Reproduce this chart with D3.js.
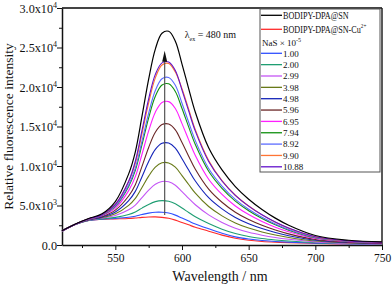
<!DOCTYPE html>
<html lang="en">
  <head>
    <meta charset="UTF-8" />
    <title>Fluorescence spectra</title>
    <script src="https://d3js.org/d3.v7.min.js"></script>
    <style>
      * { margin: 0; padding: 0; }
      body { background: #fff; font-family: "Liberation Serif", "Times New Roman", serif; }
      .axis text { font-size: 11.5px; fill: #111; font-family: "Liberation Serif", serif; }
      .y-axis text { font-size: 12.2px; }
      .axis path, .axis line { stroke: #111; }
      .axis-label { font-size: 13.5px; fill: #111; }
      .legend text { font-size: 9px; fill: #111; }
    </style>
  </head>
  <body>
    <div id="chart"></div>
    <script>
      // wavelength grid (nm)
      const wavelengths = [510, 520, 530, 540, 550, 560, 565, 570, 575, 580, 585, 590, 595,
        600, 605, 610, 620, 630, 640, 650, 660, 670, 680, 700, 725, 750];

      const bodipy = [1800, 2650, 3350, 3950, 5500, 9000, 11800, 16300, 21000, 24800, 26800, 27050, 25800,
        22900, 19800, 16800, 12300, 9500, 7400, 5800, 4500, 3400, 2500, 1200, 600, 400];
      const bodipyCu = [1750, 2600, 3100, 3250, 3300, 3350, 3420, 3500, 3550, 3560, 3500, 3380, 3150,
        2850, 2550, 2250, 1750, 1250, 850, 600, 450, 360, 300, 200, 120, 80];
      const nas100 = [1750, 2600, 3110, 3270, 3360, 3510, 3650, 3860, 4040, 4150, 4150, 4040, 3780,
        3410, 3030, 2660, 2050, 1480, 1030, 750, 560, 450, 360, 230, 130, 90];
      const nas200 = [1750, 2600, 3120, 3310, 3500, 3860, 4180, 4670, 5140, 5490, 5620, 5530, 5210,
        4680, 4120, 3570, 2710, 2000, 1450, 1070, 820, 640, 500, 290, 160, 110];
      const nas299 = [1760, 2610, 3150, 3390, 3730, 4450, 5050, 6000, 6950, 7700, 8040, 8000, 7570,
        6760, 5910, 5090, 3810, 2860, 2130, 1610, 1240, 950, 730, 400, 210, 140];
      const nas398 = [1770, 2620, 3170, 3460, 3950, 5020, 5900, 7290, 8720, 9850, 10400, 10390, 9850,
        8790, 7660, 6560, 4870, 3690, 2790, 2140, 1650, 1260, 950, 500, 260, 180];
      const nas498 = [1770, 2620, 3200, 3530, 4180, 5620, 6790, 8650, 10570, 12100, 12870, 12900, 12260,
        10910, 9490, 8100, 5990, 4570, 3480, 2690, 2080, 1580, 1180, 600, 310, 210];
      const nas596 = [1780, 2630, 3230, 3600, 4410, 6200, 7640, 9950, 12350, 14270, 15240, 15310, 14570,
        12960, 11240, 9580, 7070, 5410, 4150, 3220, 2490, 1890, 1410, 700, 360, 240];
      const nas695 = [1780, 2630, 3260, 3690, 4670, 6880, 8650, 11490, 14440, 16810, 18040, 18150, 17280,
        15360, 13310, 11330, 8330, 6400, 4940, 3850, 2980, 2260, 1670, 820, 420, 280];
      const nas794 = [1790, 2640, 3280, 3750, 4880, 7410, 9450, 12700, 16100, 18830, 20250, 20400, 19440,
        17270, 14950, 12710, 9340, 7180, 5560, 4340, 3360, 2550, 1880, 920, 470, 310];
      const nas892 = [1790, 2640, 3290, 3780, 4960, 7600, 9730, 13140, 16690, 19550, 21050, 21200, 20210,
        17950, 15540, 13210, 9690, 7460, 5780, 4520, 3500, 2650, 1960, 950, 480, 320];
      const nas990 = [1790, 2640, 3310, 3830, 5120, 8030, 10360, 14100, 18000, 21150, 22790, 22980, 21900,
        19800, 17200, 14600, 10700, 8150, 6300, 4930, 3810, 2880, 2120, 1030, 520, 350];
      const nas1088 = [1790, 2640, 3310, 3840, 5140, 8070, 10600, 14500, 18500, 21600, 23050, 23170, 22090,
        19610, 16970, 14410, 10570, 8100, 6290, 4920, 3820, 2900, 2140, 1040, 520, 350];

      const seriesLabels = ["BODIPY-DPA@SN", "BODIPY-DPA@SN-Cu", "1.00", "2.00", "2.99", "3.98", "4.98",
        "5.96", "6.95", "7.94", "8.92", "9.90", "10.88"];
      const seriesValues = [bodipy, bodipyCu, nas100, nas200, nas299, nas398, nas498, nas596,
        nas695, nas794, nas892, nas990, nas1088];
      const seriesColors = ["#000000", "#ff2a2a", "#3050ff", "#1f9e72", "#c455f5", "#687a18", "#1424b8",
        "#6a2626", "#ff1fff", "#119010", "#5c6cff", "#ff7434", "#6212cc"];

      const yTicks = [0, 5000, 10000, 15000, 20000, 25000, 30000];
      const xTicks = [550, 600, 650, 700, 750];

      const W = 392, H = 285;
      const margin = { top: 8, right: 10, bottom: 40, left: 62 };
      const width = W - margin.left - margin.right,
        height = H - margin.top - margin.bottom;

      const svg = d3.select("#chart").append("svg")
        .attr("width", W).attr("height", H);
      const g = svg.append("g").attr("transform", `translate(${margin.left},${margin.top})`);

      const x = d3.scaleLinear().domain([510, 750]).range([0, width]);
      const y = d3.scaleLinear().domain([0, 30000]).range([height, 0]);

      // frame (top & right)
      g.append("line").attr("x1", 0).attr("x2", width).attr("y1", 0).attr("y2", 0)
        .attr("stroke", "#444").attr("stroke-width", 2);
      g.append("line").attr("x1", width).attr("x2", width).attr("y1", 0).attr("y2", height)
        .attr("stroke", "#222").attr("stroke-width", 1.5);

      // minor ticks
      g.append("g").attr("class", "axis").attr("transform", `translate(0,${height})`)
        .call(d3.axisBottom(x).tickValues([525, 575, 625, 675, 725]).tickSize(3).tickFormat(""))
        .select(".domain").remove();
      g.append("g").attr("class", "axis")
        .call(d3.axisLeft(y).tickValues([2500, 7500, 12500, 17500, 22500, 27500]).tickSize(3).tickFormat(""))
        .select(".domain").remove();

      // x axis
      const xAxis = g.append("g").attr("class", "axis").attr("transform", `translate(0,${height})`)
        .call(d3.axisBottom(x).tickValues(xTicks).tickSize(5).tickPadding(4).tickSizeOuter(0));
      xAxis.select(".domain").attr("stroke-width", 1.5);

      // y axis with superscript labels
      const yAxis = g.append("g").attr("class", "axis y-axis")
        .call(d3.axisLeft(y).tickValues(yTicks).tickSize(5).tickPadding(3).tickSizeOuter(0).tickFormat(""));
      yAxis.select(".domain").attr("stroke-width", 1.5);
      yAxis.selectAll(".tick").each(function (d) {
        const t = d3.select(this).select("text").attr("x", -5).attr("dy", "0.35em");
        if (d === 0) { t.text("0.0"); return; }
        const exp = d >= 10000 ? 4 : 3;
        const mant = (d / Math.pow(10, exp)).toFixed(1);
        t.append("tspan").text(mant + "x10");
        t.append("tspan").attr("dy", -5).style("font-size", "8px").text(exp);
      });

      // spectra
      const line = d3.line()
        .x((d, i) => x(wavelengths[i]))
        .y((d) => y(d))
        .curve(d3.curveCatmullRom.alpha(0.5));

      const plot = g.append("g");
      seriesValues.forEach((vals, i) => {
        if (i === 0) return;
        plot.append("path").attr("d", line(vals)).attr("fill", "none")
          .attr("stroke", seriesColors[i]).attr("stroke-width", 1.1);
      });
      plot.append("path").attr("d", line(seriesValues[0])).attr("fill", "none")
        .attr("stroke", seriesColors[0]).attr("stroke-width", 1.2);

      // arrow
      const ax = x(587);
      g.append("line").attr("x1", ax).attr("x2", ax).attr("y1", y(3800)).attr("y2", y(23800))
        .attr("stroke", "#555").attr("stroke-width", 1.2);
      g.append("path")
        .attr("d", `M${ax},${y(24600)} L${ax - 2.5},${y(23200)} L${ax + 2.5},${y(23200)} Z`)
        .attr("fill", "#111");

      // excitation annotation
      const ann = g.append("text").attr("x", x(602)).attr("y", y(26200))
        .attr("font-size", 10).attr("fill", "#111");
      ann.append("tspan").text("λ");
      ann.append("tspan").attr("dy", 3).attr("font-size", 6).text("ex");
      ann.append("tspan").attr("dy", -3).text(" = 480 nm");

      // legend
      const lg = g.append("g").attr("class", "legend");
      const lx = x(658.5), lw = 120;
      lg.append("rect").attr("x", lx).attr("y", 1).attr("width", lw).attr("height", 163)
        .attr("fill", "#fff").attr("stroke", "#555").attr("stroke-width", 1);
      const rowY = (i) => (i < 2 ? 7.3 + i * 14 : 45.3 + (i - 2) * 11.35);
      seriesLabels.forEach((lab, i) => {
        const yy = rowY(i);
        lg.append("line").attr("x1", lx + 1).attr("x2", lx + 22).attr("y1", yy).attr("y2", yy)
          .attr("stroke", seriesColors[i]).attr("stroke-width", 1.3);
        if (i < 2) {
          const t = lg.append("text")
            .attr("transform", `translate(${lx + 23},${yy + 3.6}) scale(0.8,1)`)
            .style("font-size", "10.2px").text(lab);
          if (i === 1) t.append("tspan").attr("dy", -5).style("font-size", "6.5px").text("2+");
        } else {
          lg.append("text").attr("x", lx + 23).attr("y", yy + 3.3).text(lab);
        }
      });
      const nasT = lg.append("text").attr("x", lx + 2).attr("y", 37.8);
      nasT.append("tspan").text("NaS  ×  10");
      nasT.append("tspan").attr("dy", -4).style("font-size", "6px").text("-5");

      // axis labels
      svg.append("text").attr("class", "axis-label")
        .attr("x", margin.left + width / 2 - 2).attr("y", 281).attr("text-anchor", "middle")
        .style("font-size", "14px").text("Wavelength  / nm");
      svg.append("text").attr("class", "axis-label")
        .attr("transform", `translate(13,${margin.top + height / 2}) rotate(-90)`)
        .attr("text-anchor", "middle").text("Relative fluorescence intensity");
    </script>
  </body>
</html>
